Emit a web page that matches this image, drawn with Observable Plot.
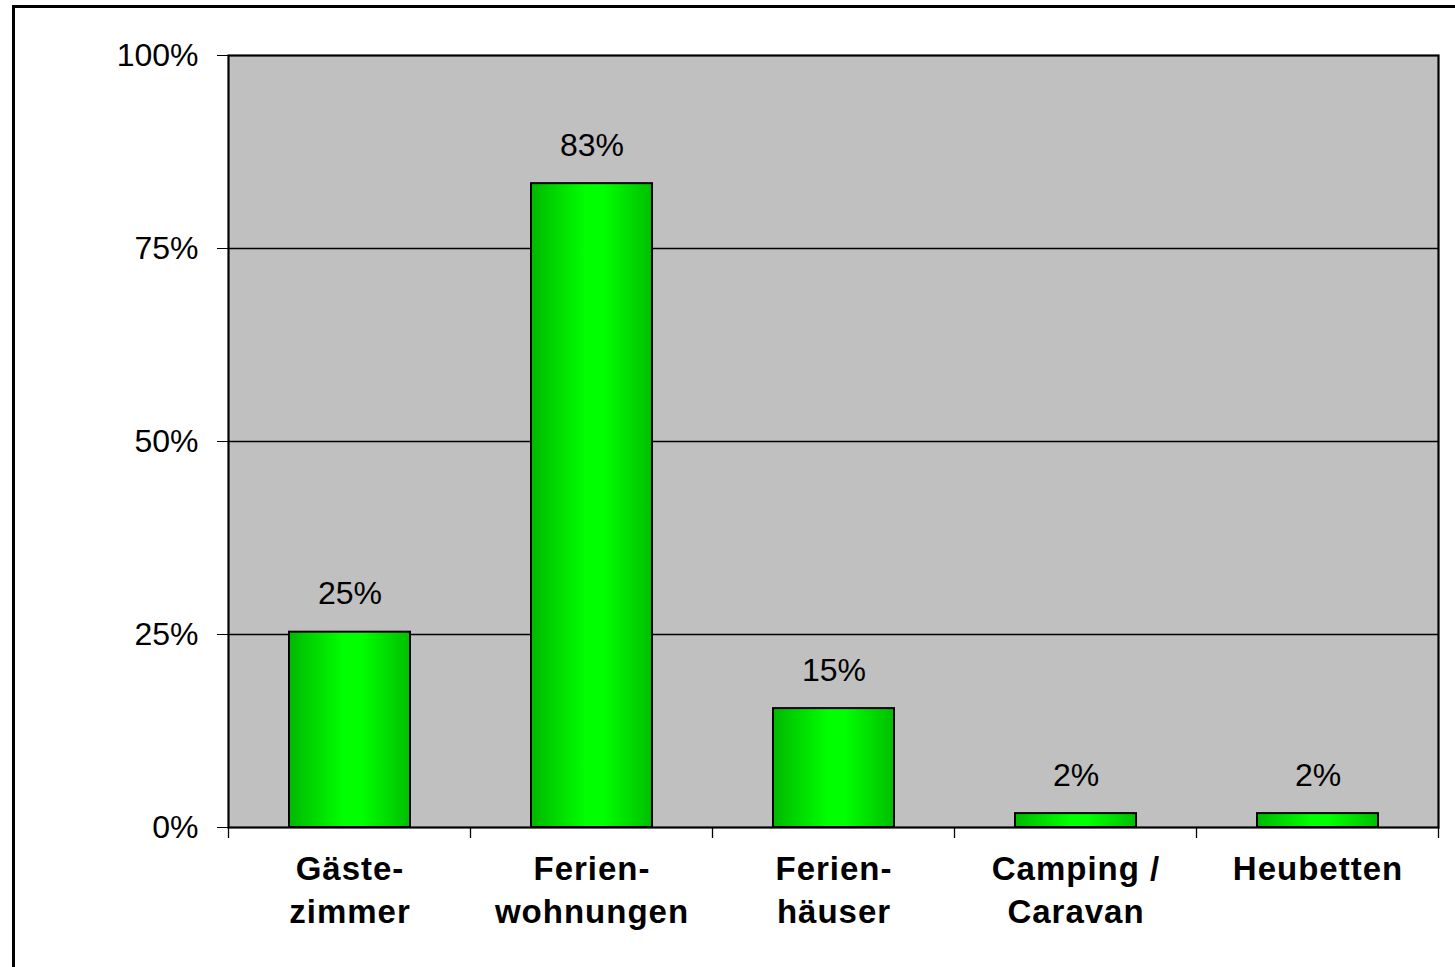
<!DOCTYPE html>
<html>
<head>
<meta charset="utf-8">
<script src="https://cdn.jsdelivr.net/npm/d3@7"></script>
<script src="https://cdn.jsdelivr.net/npm/@observablehq/plot@0.6"></script>
<style>
  html, body { margin: 0; padding: 0; background: #fff; overflow: hidden; }
  #wrap { position: relative; width: 1455px; height: 967px; overflow: hidden; }
  #outer { position: absolute; left: 12px; top: 5px; width: 1500px; height: 1100px; border: 3px solid #000; box-sizing: border-box; pointer-events: none; }
  #chart { position: absolute; left: 0; top: 0; }
  #chart g[aria-label="x-axis tick label"] text { letter-spacing: 1px; }
</style>
</head>
<body>
<div id="wrap"><div id="chart"></div><div id="outer"></div></div>
<script>
const categories = ["Gäste-\nzimmer", "Ferien-\nwohnungen", "Ferien-\nhäuser", "Camping /\nCaravan", "Heubetten"];
const values = [25.3, 83.4, 15.4, 1.8, 1.8];
const valueLabels = ["25%", "83%", "15%", "2%", "2%"];
const yTicks = [0, 25, 50, 75, 100];
const gridValues = [25, 50, 75];

const data = categories.map((c, i) => ({cat: c, value: values[i], label: valueLabels[i]}));

const svgNS = "http://www.w3.org/2000/svg";
function gradientDefs() {
  const defs = document.createElementNS(svgNS, "defs");
  const g = document.createElementNS(svgNS, "linearGradient");
  g.setAttribute("id", "barGrad");
  g.setAttribute("x1", "0"); g.setAttribute("x2", "1");
  g.setAttribute("y1", "0"); g.setAttribute("y2", "0");
  [["0%", "#00b800"], ["45%", "#00ff00"], ["60%", "#00ff00"], ["100%", "#00bf00"]].forEach(([o, c]) => {
    const s = document.createElementNS(svgNS, "stop");
    s.setAttribute("offset", o); s.setAttribute("stop-color", c);
    g.appendChild(s);
  });
  defs.appendChild(g);
  return defs;
}

function boundaryTicks(index, scales, values, dimensions) {
  const x = scales.x, y = scales.y;
  const step = x.step(), bw = x.bandwidth();
  const gap = step - bw;
  const g = document.createElementNS(svgNS, "g");
  const y0 = y(0);
  const xs = categories.map(c => x(c) - gap / 2);
  xs.push(x(categories[categories.length - 1]) + bw + gap / 2);
  xs.forEach(px => {
    const l = document.createElementNS(svgNS, "line");
    l.setAttribute("x1", px); l.setAttribute("x2", px);
    l.setAttribute("y1", y0); l.setAttribute("y2", y0 + 11);
    l.setAttribute("stroke", "#000");
    l.setAttribute("stroke-width", "1.3");
    g.appendChild(l);
  });
  return g;
}

const plot = Plot.plot({
  width: 1455,
  height: 967,
  marginLeft: 228,
  marginRight: 17,
  marginTop: 55,
  marginBottom: 140,
  style: {fontFamily: "Arial, 'Liberation Sans', sans-serif", background: "transparent", color: "#000"},
  x: {domain: categories, paddingInner: 0.5, paddingOuter: 0.25, label: null},
  y: {domain: [0, 100], label: null},
  marks: [
    gradientDefs,
    Plot.frame({fill: "#c0c0c0", stroke: "none"}),
    Plot.ruleY(gridValues, {stroke: "#000", strokeWidth: 1.5}),
    Plot.barY(data, {x: "cat", y: "value", fill: "url(#barGrad)", stroke: "#000", strokeWidth: 2}),
    Plot.text(data, {x: "cat", y: "value", text: "label", dy: -38, lineAnchor: "middle", fontSize: 32, fill: "#000"}),
    Plot.frame({stroke: "#000", strokeWidth: 2.2}),
    Plot.axisY({ticks: yTicks, tickFormat: d => d + "%", tickSize: 11, tickPadding: 19, fontSize: 32, stroke: "#000", strokeWidth: 1, fill: "#000"}),
    Plot.axisX({tickSize: 0, tickPadding: 22, fontSize: 33, fontWeight: "bold", lineHeight: 1.3, fill: "#000"}),
    boundaryTicks
  ]
});
document.getElementById("chart").appendChild(plot);
</script>
</body>
</html>
